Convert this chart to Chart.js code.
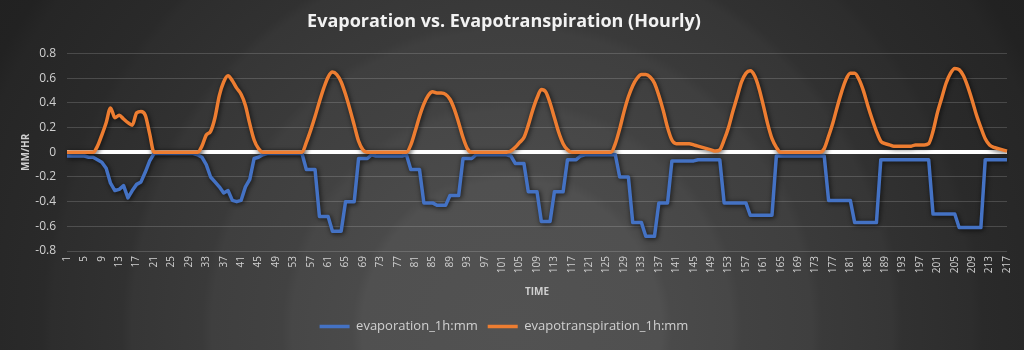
<!DOCTYPE html>
<html>
<head>
<meta charset="utf-8">
<script src="https://cdn.jsdelivr.net/npm/chart.js@4.4.1/dist/chart.umd.min.js"></script>
<style>
  html, body { margin: 0; padding: 0; }
  body {
    width: 1024px; height: 350px; overflow: hidden;
    background: radial-gradient(circle at 512px 330px,
      #525252 0px, #505050 150px, #4a4a4a 160px, #474747 220px, #424242 230px,
      #3f3f3f 300px, #3a3a3a 310px, #363636 380px, #313131 390px,
      #2d2d2d 460px, #2a2a2a 470px, #262626 560px, #222222 580px, #1f1f1f 700px);
  }
  #wrap { position: relative; width: 1024px; height: 350px; }
</style>
</head>
<body>
<div id="wrap"><canvas id="etChart"></canvas></div>
<script>
// hourly values (217 hours)
const evaporation = [
  -0.03, -0.03, -0.03, -0.03, -0.03, -0.04, -0.04, -0.06, -0.08, -0.13,
  -0.25, -0.31, -0.30, -0.27, -0.37, -0.31, -0.26, -0.24, -0.16, -0.07,
  -0.01, -0.01, -0.01, -0.01, -0.01, -0.01, -0.01, -0.01, -0.01, -0.01,
  -0.02, -0.04, -0.10, -0.20, -0.24, -0.28, -0.33, -0.31, -0.39, -0.40,
  -0.39, -0.28, -0.22, -0.05, -0.04, -0.02, -0.01, -0.01, -0.01, -0.01,
  -0.01, -0.01, -0.01, -0.01, -0.01, -0.14, -0.14, -0.14, -0.52, -0.52,
  -0.52, -0.64, -0.64, -0.64, -0.40, -0.40, -0.40, -0.05, -0.05, -0.05,
  -0.02, -0.03, -0.03, -0.03, -0.03, -0.03, -0.03, -0.03, -0.02, -0.14,
  -0.14, -0.14, -0.41, -0.41, -0.41, -0.43, -0.43, -0.43, -0.35, -0.35,
  -0.35, -0.05, -0.05, -0.05, -0.02, -0.02, -0.02, -0.02, -0.02, -0.02,
  -0.02, -0.02, -0.03, -0.09, -0.09, -0.09, -0.32, -0.32, -0.32, -0.56,
  -0.56, -0.56, -0.32, -0.32, -0.32, -0.06, -0.06, -0.06, -0.03, -0.02,
  -0.02, -0.02, -0.02, -0.02, -0.02, -0.02, -0.02, -0.20, -0.20, -0.20,
  -0.57, -0.57, -0.57, -0.68, -0.68, -0.68, -0.41, -0.41, -0.41, -0.07,
  -0.07, -0.07, -0.07, -0.07, -0.07, -0.06, -0.06, -0.06, -0.06, -0.06,
  -0.06, -0.41, -0.41, -0.41, -0.41, -0.41, -0.41, -0.51, -0.51, -0.51,
  -0.51, -0.51, -0.51, -0.03, -0.03, -0.03, -0.03, -0.03, -0.03, -0.03,
  -0.03, -0.03, -0.03, -0.03, -0.03, -0.39, -0.39, -0.39, -0.39, -0.39,
  -0.39, -0.57, -0.57, -0.57, -0.57, -0.57, -0.57, -0.06, -0.06, -0.06,
  -0.06, -0.06, -0.06, -0.06, -0.06, -0.06, -0.06, -0.06, -0.06, -0.50,
  -0.50, -0.50, -0.50, -0.50, -0.50, -0.61, -0.61, -0.61, -0.61, -0.61,
  -0.61, -0.06, -0.06, -0.06, -0.06, -0.06, -0.06
];

const evapotranspiration = [
  0, 0, 0, 0, 0, 0, 0, 0.05, 0.14, 0.24,
  0.36, 0.28, 0.30, 0.27, 0.24, 0.22, 0.32, 0.33, 0.30, 0.15,
  0, 0, 0, 0, 0, 0, 0, 0, 0, 0,
  0, 0.05, 0.14, 0.17, 0.28, 0.46, 0.57, 0.62, 0.58, 0.52,
  0.47, 0.38, 0.23, 0.10, 0.03, 0, 0, 0, 0, 0,
  0, 0, 0, 0, 0, 0.08, 0.18, 0.29, 0.41, 0.52,
  0.61, 0.65, 0.63, 0.57, 0.47, 0.35, 0.22, 0.09, 0.02, 0,
  0, 0, 0, 0, 0, 0, 0, 0, 0, 0.06,
  0.17, 0.29, 0.39, 0.46, 0.49, 0.48, 0.48, 0.47, 0.43, 0.35,
  0.24, 0.12, 0.03, 0, 0, 0, 0, 0, 0, 0,
  0, 0, 0.01, 0.04, 0.08, 0.12, 0.22, 0.34, 0.44, 0.51,
  0.49, 0.40, 0.28, 0.16, 0.07, 0.02, 0, 0, 0, 0,
  0, 0, 0, 0, 0, 0, 0.07, 0.19, 0.33, 0.45,
  0.54, 0.60, 0.63, 0.63, 0.61, 0.56, 0.46, 0.34, 0.20, 0.10,
  0.07, 0.07, 0.07, 0.07, 0.06, 0.05, 0.04, 0.03, 0.02, 0.01,
  0.02, 0.10, 0.20, 0.33, 0.45, 0.57, 0.64, 0.66, 0.62, 0.52,
  0.38, 0.23, 0.11, 0.04, 0, 0, 0, 0, 0, 0,
  0, 0, 0, 0, 0.03, 0.13, 0.24, 0.37, 0.49, 0.59,
  0.64, 0.64, 0.59, 0.50, 0.38, 0.27, 0.17, 0.09, 0.07, 0.06,
  0.05, 0.05, 0.05, 0.05, 0.05, 0.06, 0.06, 0.06, 0.07, 0.17,
  0.32, 0.44, 0.56, 0.64, 0.68, 0.67, 0.62, 0.53, 0.42, 0.30,
  0.20, 0.11, 0.06, 0.04, 0.03, 0.02, 0.01
];

// x labels are the hour numbers 1..217
const hours = evaporation.map((v, i) => String(i + 1));

const yTicksMin = -0.8;
const yTicksMax = 0.8;
const yStep = 0.2;

const textColor = '#d0d0d0';
const fontFamily = '"Open Sans", "Liberation Sans", sans-serif';

// dark glow under the lines
const lineShadow = {
  id: 'lineShadow',
  beforeDatasetDraw(chart) {
    const c = chart.ctx;
    c.save();
    c.shadowColor = 'rgba(0, 0, 0, 0.75)';
    c.shadowBlur = 5;
    c.shadowOffsetX = 1;
    c.shadowOffsetY = 1;
  },
  afterDatasetDraw(chart) {
    chart.ctx.restore();
  }
};

const ctx = document.getElementById('etChart').getContext('2d');

new Chart(ctx, {
  type: 'line',
  data: {
    labels: hours,
    datasets: [
      {
        label: 'evaporation_1h:mm',
        data: evaporation,
        borderColor: '#4472C4',
        backgroundColor: '#4472C4',
        borderWidth: 3.5,
        pointRadius: 0,
        tension: 0,
        borderJoinStyle: 'round',
        order: 1
      },
      {
        label: 'evapotranspiration_1h:mm',
        data: evapotranspiration,
        borderColor: '#ED7D31',
        backgroundColor: '#ED7D31',
        borderWidth: 3.5,
        pointRadius: 0,
        cubicInterpolationMode: 'monotone',
        borderJoinStyle: 'round',
        order: 0 // orange drawn on top
      }
    ]
  },
  options: {
    responsive: true,
    maintainAspectRatio: false,
    animation: false,
    layout: {
      padding: { top: 0, right: 16, bottom: 7, left: 0 }
    },
    plugins: {
      title: {
        display: true,
        text: 'Evaporation vs. Evapotranspiration (Hourly)',
        color: '#f2f2f2',
        font: { family: fontFamily, size: 18, weight: 'bold' },
        padding: { top: 11, bottom: 21 }
      },
      legend: {
        position: 'bottom',
        labels: {
          color: textColor,
          font: { family: fontFamily, size: 13 },
          usePointStyle: true,
          pointStyle: 'line',
          pointStyleWidth: 30,
          padding: 10,
          sort: (a, b) => a.datasetIndex - b.datasetIndex
        }
      },
      tooltip: { enabled: false }
    },
    scales: {
      x: {
        grid: { display: false, drawTicks: false },
        border: { display: false },
        ticks: {
          color: textColor,
          font: { family: fontFamily, size: 10 },
          autoSkip: false,
          maxRotation: 90,
          minRotation: 90,
          padding: 5,
          callback: function (value, index) {
            return index % 4 === 0 ? this.getLabelForValue(value) : '';
          }
        },
        title: {
          display: true,
          text: 'TIME',
          color: textColor,
          font: { family: fontFamily, size: 10, weight: 'bold' },
          padding: { top: 4, bottom: 12 }
        },
        afterFit: (scale) => { scale.height = 59; }
      },
      y: {
        min: yTicksMin,
        max: yTicksMax,
        ticks: {
          stepSize: yStep,
          color: textColor,
          font: { family: fontFamily, size: 12 },
          padding: 11
        },
        grid: {
          drawTicks: false,
          color: (c) => (c.tick && c.tick.value === 0 ? '#ffffff' : 'rgba(255,255,255,0.16)'),
          lineWidth: (c) => (c.tick && c.tick.value === 0 ? 4 : 1)
        },
        border: { display: false },
        title: {
          display: true,
          text: 'MM/HR',
          color: textColor,
          font: { family: fontFamily, size: 10, weight: 'bold' },
          padding: { top: 20, bottom: 0 }
        },
        afterFit: (scale) => { scale.width = 67; }
      }
    }
  },
  plugins: [lineShadow]
});
</script>
</body>
</html>
